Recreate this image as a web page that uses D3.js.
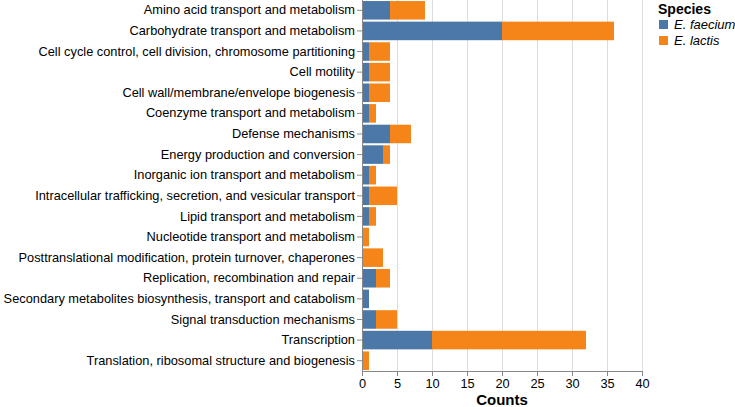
<!DOCTYPE html>
<html lang="en">
<head>
<meta charset="utf-8">
<title>COG counts</title>
<style>
body { margin: 0; background: white; font-family: Arial, "Liberation Sans", sans-serif; }
.grid line { stroke: #ddd; }
.axis text { font-size: 12.8px; fill: #000; }
.axis path, .axis line { stroke: #888; }
</style>
</head>
<body>
<div id="chart"></div>
<script src="https://cdn.jsdelivr.net/npm/d3@7"></script>
<script>

var categories = [
  "Amino acid transport and metabolism",
  "Carbohydrate transport and metabolism",
  "Cell cycle control, cell division, chromosome partitioning",
  "Cell motility",
  "Cell wall/membrane/envelope biogenesis",
  "Coenzyme transport and metabolism",
  "Defense mechanisms",
  "Energy production and conversion",
  "Inorganic ion transport and metabolism",
  "Intracellular trafficking, secretion, and vesicular transport",
  "Lipid transport and metabolism",
  "Nucleotide transport and metabolism",
  "Posttranslational modification, protein turnover, chaperones",
  "Replication, recombination and repair",
  "Secondary metabolites biosynthesis, transport and catabolism",
  "Signal transduction mechanisms",
  "Transcription",
  "Translation, ribosomal structure and biogenesis"
];
var faecium = [4, 20, 1, 1, 1, 1, 4, 3, 1, 1, 1, 0, 0, 2, 1, 2, 10, 0];
var lactis  = [5, 16, 3, 3, 3, 1, 3, 1, 1, 4, 1, 1, 3, 2, 0, 3, 22, 1];
var species = ["E. faecium", "E. lactis"];
var colors = ["#4c78a8", "#f58518"];
var xTicks = [0, 5, 10, 15, 20, 25, 30, 35, 40];

var W = 735, H = 407;
var marginLeft = 362, marginTop = 0, plotW = 280, plotH = 371;

var svg = d3.select("#chart").append("svg").attr("width", W).attr("height", H);
var g = svg.append("g").attr("transform", "translate(" + marginLeft + "," + marginTop + ")");

var x = d3.scaleLinear().domain([0, 40]).range([0, plotW]);
var y = d3.scaleBand().domain(categories).range([0, plotH]).paddingInner(0.1).paddingOuter(0.05);

// grid
g.append("g").attr("class", "grid")
  .selectAll("line").data(xTicks).join("line")
  .attr("x1", d => x(d) + 0.5).attr("x2", d => x(d) + 0.5)
  .attr("y1", 0).attr("y2", plotH);

// stacked bars
var rows = categories.map(function(c, i) { return { cat: c, vals: [faecium[i], lactis[i]] }; });
rows.forEach(function(r) {
  var x0 = 0;
  r.vals.forEach(function(v, j) {
    if (v > 0) {
      g.append("rect")
        .attr("x", x(x0)).attr("width", x(x0 + v) - x(x0))
        .attr("y", y(r.cat)).attr("height", y.bandwidth())
        .attr("fill", colors[j]);
    }
    x0 += v;
  });
});

// axes
var xAxis = g.append("g").attr("class", "axis")
  .attr("transform", "translate(0," + plotH + ")")
  .call(d3.axisBottom(x).tickValues(xTicks).tickSize(5).tickPadding(3));
xAxis.select(".domain").attr("d", "M0.5,0.5H" + (plotW + 0.5));

var yAxis = g.append("g").attr("class", "axis")
  .call(d3.axisLeft(y).tickSize(5).tickPadding(2));
yAxis.select(".domain").attr("d", "M0.5,0V" + plotH);

g.append("text")
  .attr("x", plotW / 2).attr("y", plotH + 34)
  .attr("text-anchor", "middle")
  .style("font-size", "15px").style("font-weight", "bold")
  .text("Counts");

// legend
var lg = svg.append("g").attr("transform", "translate(658,0)");
lg.append("text").attr("x", 0).attr("y", 14)
  .style("font-size", "14px").style("font-weight", "bold").text("Species");
species.forEach(function(s, i) {
  lg.append("rect").attr("x", 1).attr("y", 20 + i * 16).attr("width", 9).attr("height", 9)
    .attr("fill", colors[i]);
  lg.append("text").attr("x", 16).attr("y", 29 + i * 16)
    .style("font-size", "13px").style("font-style", "italic").text(s);
});

</script>
</body>
</html>
